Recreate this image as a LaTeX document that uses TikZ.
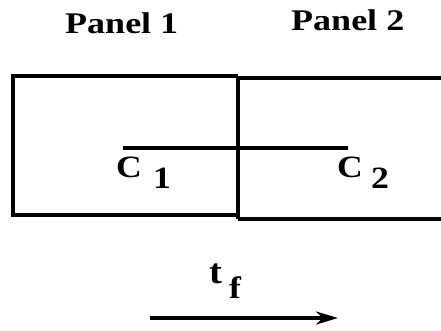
\documentclass[tikz,border=0pt]{standalone}
\usepackage{fontspec}
\setmainfont{Liberation Serif}
\usetikzlibrary{arrows.meta}
\tikzset{
  lbl/.style={font=\fontsize{30}{32}\selectfont\bfseries, inner sep=0pt, anchor=base west, xscale=1.2},
  sym/.style={font=\fontsize{31}{33}\selectfont\bfseries, inner sep=0pt, anchor=base west, xscale=1.15},
  big/.style={font=\fontsize{35}{37}\selectfont\bfseries, inner sep=0pt, anchor=base west, xscale=1.1},
  frame/.style={line width=3.2pt, line join=miter},
  rod/.style={line width=3.2pt},
  flow/.style={line width=3.8pt, -{Stealth[length=22pt, width=13pt, inset=7pt]}}
}
\begin{document}
\begin{tikzpicture}[x=1pt,y=-1pt]
\useasboundingbox (0,0) rectangle (441,330);
% panel titles
\node[lbl] (p1) at (65,33) {Panel 1};
\node[lbl] (p2) at (291,30) {Panel 2};
% boxes
\draw[frame] (238,76) -- (13,76) -- (13,215) -- (238,215);
\draw[frame] (238,76) -- (238,219);
\draw[frame] (445,78) -- (238,78);
\draw[frame] (238,219) -- (445,219);
% rod
\coordinate (r1) at (123,148);
\coordinate (r2) at (348,148);
\draw[rod] (r1) -- (r2);
% labels
\node[sym] (c1) at (116,177) {C};
\node[sym] (s1) at (153,188) {1};
\node[sym] (c2) at (337,177) {C};
\node[sym] (s2) at (371,188) {2};
\node[big] (t) at (209,283) {t};
\node[sym] (f) at (229,298) {f};
% arrow
\coordinate (a1) at (150,318);
\coordinate (a2) at (338,318);
\draw[flow] (a1) -- (a2);
\end{tikzpicture}
\end{document}
